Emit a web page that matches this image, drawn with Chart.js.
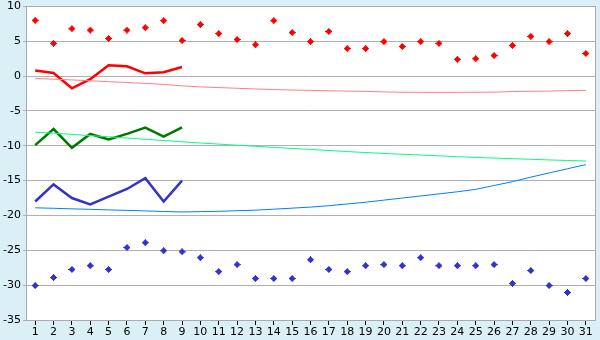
<!DOCTYPE html>
<html>
<head>
<meta charset="utf-8">
<script src="https://cdn.jsdelivr.net/npm/chart.js@4/dist/chart.umd.min.js"></script>
<style>
  html, body { margin: 0; padding: 0; background: #daf0f6; }
  canvas { display: block; }
</style>
</head>
<body>
<canvas id="chart" width="600" height="340"></canvas>
<script>
const days = Array.from({ length: 31 }, (_, i) => String(i + 1));

const redPoints = [8, 4.7, 6.8, 6.6, 5.4, 6.6, 6.95, 7.95, 5.1, 7.4, 6.1, 5.25, 4.5, 7.95, 6.25,
    4.95, 6.4, 3.95, 3.95, 4.95, 4.25, 4.95, 4.7, 2.4, 2.5, 2.95, 4.4, 5.7, 4.95, 6.1, 3.25];
const redLine = [0.8, 0.45, -1.75, -0.45, 1.55, 1.4, 0.4, 0.55, 1.3];
const redTrend = [-0.33, -0.45, -0.55, -0.68, -0.8, -0.93, -1.05, -1.2, -1.4, -1.55, -1.65, -1.75,
    -1.85, -1.93, -2.0, -2.05, -2.1, -2.15, -2.2, -2.27, -2.32, -2.33, -2.33, -2.33, -2.32, -2.3,
    -2.22, -2.18, -2.15, -2.08, -2.05];

const greenLine = [-9.9, -7.6, -10.3, -8.3, -9.1, -8.3, -7.4, -8.7, -7.35];
const greenTrend = [-8.05, -8.2, -8.37, -8.54, -8.71, -8.89, -9.07, -9.25, -9.43, -9.6, -9.76,
    -9.92, -10.08, -10.23, -10.38, -10.53, -10.68, -10.83, -10.97, -11.1, -11.22, -11.33, -11.44,
    -11.56, -11.67, -11.76, -11.85, -11.94, -12.03, -12.11, -12.19];

const blueLine = [-18.0, -15.55, -17.5, -18.4, -17.3, -16.2, -14.65, -18.0, -15.0];
const blueTrend = [-18.9, -18.97, -19.05, -19.12, -19.2, -19.27, -19.35, -19.43, -19.5, -19.45,
    -19.4, -19.32, -19.24, -19.1, -18.95, -18.8, -18.6, -18.35, -18.1, -17.8, -17.5, -17.2,
    -16.9, -16.6, -16.25, -15.7, -15.15, -14.5, -13.9, -13.3, -12.7];
const bluePoints = [-30.05, -28.9, -27.75, -27.2, -27.75, -24.6, -23.9, -25.05, -25.2, -26.05,
    -28.05, -27.05, -29.05, -29.05, -29.05, -26.35, -27.75, -28.05, -27.2, -27.05, -27.2, -26.05,
    -27.2, -27.2, -27.2, -27.05, -29.75, -27.9, -30.05, -31.05, -29.05];

// small spiky plus marker, 7x7
function marker(color) {
    const c = document.createElement('canvas');
    c.width = 7; c.height = 7;
    const g = c.getContext('2d');
    g.fillStyle = color;
    g.fillRect(3, 0, 1, 7);
    g.fillRect(0, 3, 7, 1);
    g.fillRect(2, 1, 3, 5);
    g.fillRect(1, 2, 5, 3);
    return c;
}

const frame = {
    id: 'frame',
    beforeDraw(chart) {
        const { ctx, chartArea: a } = chart;
        ctx.save();
        ctx.fillStyle = '#daf0f6';
        ctx.fillRect(0, 0, chart.width, chart.height);
        ctx.fillStyle = '#ffffff';
        ctx.fillRect(a.left, a.top, a.right - a.left, a.bottom - a.top);
        ctx.restore();
    },
    beforeDatasetsDraw(chart) {
        const { ctx, chartArea: a } = chart;
        ctx.save();
        ctx.strokeStyle = '#aaaaaa';
        ctx.lineWidth = 1;
        ctx.strokeRect(Math.round(a.left) + 0.5, Math.round(a.top) + 0.5,
            Math.round(a.right - a.left), Math.round(a.bottom - a.top));
        ctx.restore();
    }
};

const lineSet = (data, color, width) => ({
    data, borderColor: color, borderWidth: width, pointRadius: 0,
    fill: false, tension: 0, spanGaps: false
});
const pointSet = (data, color) => ({
    data, showLine: false, pointStyle: marker(color), pointRadius: 4,
    borderColor: color, backgroundColor: color
});

Chart.defaults.font.family = '"DejaVu Sans", Verdana, sans-serif';
Chart.defaults.font.size = 11;
Chart.defaults.color = '#000';

new Chart(document.getElementById('chart'), {
    type: 'line',
    data: {
        labels: days,
        datasets: [
            lineSet(redTrend, '#ff8080', 1),
            lineSet(greenTrend, '#00ff80', 1),
            lineSet(blueTrend, '#0080ff', 1),
            lineSet(redLine, '#ff0000', 2.5),
            lineSet(greenLine, '#007700', 2.5),
            lineSet(blueLine, '#3333cc', 2.5),
            pointSet(redPoints, '#ff0000'),
            pointSet(bluePoints, '#3333cc')
        ]
    },
    options: {
        responsive: false,
        animation: false,
        devicePixelRatio: 1,
        layout: { padding: { top: 5, right: 5, left: 0, bottom: 0 } },
        plugins: { legend: { display: false }, tooltip: { enabled: false } },
        scales: {
            x: {
                offset: true,
                grid: { drawOnChartArea: false, drawTicks: true, tickLength: 5, color: '#000' },
                border: { display: false },
                ticks: { padding: 1, maxRotation: 0, autoSkip: false },
                afterFit(s) { s.height = 20; }
            },
            y: {
                min: -35, max: 10,
                ticks: { stepSize: 5, padding: 2, font: { lineHeight: 0.8 } },
                grid: { color: '#b0b0b0', tickLength: 3 },
                border: { display: false },
                afterFit(s) { s.width = 26; }
            }
        }
    },
    plugins: [frame]
});
</script>
</body>
</html>
